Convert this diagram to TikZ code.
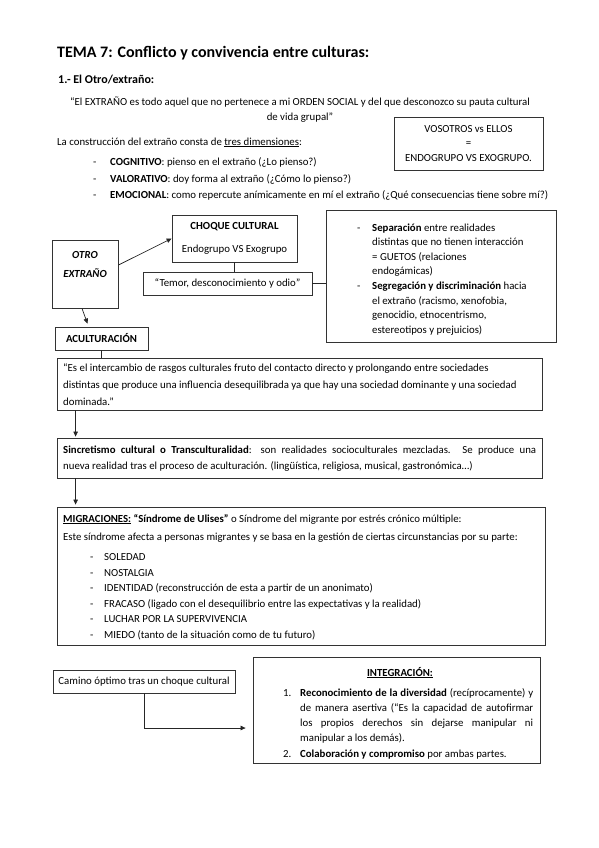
\documentclass[tikz,border=0pt]{standalone}
\usepackage{fontspec}
\setmainfont{Carlito}
\usetikzlibrary{arrows.meta}

\tikzset{
  box/.style={draw=black!80, line width=0.8pt, inner sep=0pt},
  txt/.style={anchor=base west, inner sep=0pt},
  arr/.style={-{Triangle[length=5pt,width=4.5pt]}, black!85, line width=0.7pt},
  con/.style={black!85, line width=0.7pt},
}

\begin{document}
\begin{tikzpicture}[x=1pt, y=-1pt, font=\fontsize{10.8}{15}\selectfont]
\useasboundingbox (0,0) rectangle (599,848);

% Headings
\node[txt, font=\fontsize{16}{18}\selectfont\bfseries] (title) at (57,58) {TEMA 7: Conflicto y convivencia entre culturas:};
\node[txt, font=\fontsize{12}{14}\selectfont\bfseries] (sect) at (58,84) {1.- El Otro/extraño:};
\node[anchor=base, inner sep=0pt] (def1) at (300,106) {“El EXTRAÑO es todo aquel que no pertenece a mi ORDEN SOCIAL y del que desconozco su pauta cultural};
\node[anchor=base, inner sep=0pt] (def2) at (300,121) {de vida grupal”};

% Three dimensions
\node[txt] (dims) at (57,145) {La construcción del extraño consta de \underline{tres dimensiones}:};
\foreach \y in {165,182,198}
    \node[txt] at (93,\y) {-};
\node[txt] (cogn) at (110,165) {\textbf{COGNITIVO}: pienso en el extraño (¿Lo pienso?)};
\node[txt] (valo) at (110,182) {\textbf{VALORATIVO}: doy forma al extraño (¿Cómo lo pienso?)};
\node[txt] (emoc) at (110,198) {\textbf{EMOCIONAL}: como repercute anímicamente en mí el extraño (¿Qué consecuencias tiene sobre mí?)};

\node[box, minimum width=149, minimum height=53, align=center,
      font=\fontsize{10.8}{14.5}\selectfont] (vos) at (468.5,143.5)
    {VOSOTROS vs ELLOS\\=\\ENDOGRUPO VS EXOGRUPO.};

% Otro extraño and choque cultural
\node[box, minimum width=66, minimum height=68] (otro) at (85,274) {};
\node[align=center, font=\fontsize{10.8}{19}\selectfont\bfseries\itshape] (otrotxt) at (85,264) {OTRO\\EXTRAÑO};
\node[box, minimum width=125, minimum height=47, align=center] (choque) at (234.5,238.5)
    {\textbf{CHOQUE CULTURAL}\\[8pt]Endogrupo VS Exogrupo};
\node[box, minimum width=169, minimum height=23] (temor) at (227.5,283.5)
    {“Temor, desconocimiento y odio”};

% base of a multi-line node is its last line
\node[box, minimum width=230, minimum height=132] (sep) at (441,276) {};
\node[txt] at (357,231) {-};
\node[txt] at (357,289.4) {-};
\node[txt, align=left, font=\fontsize{10.8}{14.6}\selectfont] (septxt) at (372,333.2)
    {\textbf{Separación} entre realidades\\distintas que no tienen interacción\\= GUETOS (relaciones\\endogámicas)\\
     \textbf{Segregación y discriminación} hacia\\el extraño (racismo, xenofobia,\\genocidio, etnocentrismo,\\estereotipos y prejuicios)};

\draw[arr] (otro.15) -- (choque.west);
\draw[con] (choque.south) -- (choque.south |- temor.north);
\draw[con] (temor.east) -- (temor.east -| sep.west);

% Aculturacion chain
\node[box, minimum width=93, minimum height=23, font=\fontsize{10.8}{15}\selectfont\bfseries] (acult) at (101.5,338.5) {ACULTURACIÓN};
\draw[arr] (otro.265) -- ([xshift=-14pt,yshift=3pt]acult.north);
\node[box, minimum width=485, minimum height=52] (quote) at (299.5,384) {};
\node[txt, align=left, font=\fontsize{10.8}{17}\selectfont] (quotetxt) at (63,405)
    {“Es el intercambio de rasgos culturales fruto del contacto directo y prolongando entre sociedades\\
     distintas que produce una influencia desequilibrada ya que hay una sociedad dominante y una sociedad\\
     dominada.”};
\draw[con] (acult.south) -- (acult.south |- quote.north);

\node[box, minimum width=485, minimum height=40] (sinc) at (299.5,458) {};
\node[txt, align=left, font=\fontsize{10.8}{16}\selectfont] (sinctxt) at (63,469.5)
    {\makebox[473pt][s]{\textbf{Sincretismo cultural o Transculturalidad}: son realidades socioculturales mezcladas. Se produce una}\\
     nueva realidad tras el proceso de aculturación. (lingüística, religiosa, musical, gastronómica…)};
\draw[arr] ([xshift=19pt]quote.south west) -- ([xshift=19pt,yshift=1pt]sinc.north west);

% Migraciones
\node[box, minimum width=488, minimum height=138] (migr) at (301,576) {};
\node[txt] (migrhead) at (63,522) {\underline{\textbf{MIGRACIONES:}} \textbf{“Síndrome de Ulises”} o Síndrome del migrante por estrés crónico múltiple:};
\node[txt] (migrsub) at (63,540) {Este síndrome afecta a personas migrantes y se basa en la gestión de ciertas circunstancias por su parte:};
\foreach \t [count=\i] in {SOLEDAD, NOSTALGIA,
    {IDENTIDAD (reconstrucción de esta a partir de un anonimato)},
    {FRACASO (ligado con el desequilibrio entre las expectativas y la realidad)},
    LUCHAR POR LA SUPERVIVENCIA,
    {MIEDO (tanto de la situación como de tu futuro)}}
{
    \node[txt] at (90,{545+15.5*\i}) {-};
    \node[txt] (mig\i) at (104,{545+15.5*\i}) {\t};
}
\draw[arr] ([xshift=19pt]sinc.south west) -- ([xshift=19pt,yshift=2pt]migr.north west);

% Integracion
\node[box, minimum width=182, minimum height=23] (camino) at (144,681.5) {Camino óptimo tras un choque cultural};
\node[box, minimum width=287, minimum height=106] (integ) at (396.5,710) {};
\node[anchor=base, inner sep=0pt] (integhead) at (400,676) {\underline{\textbf{INTEGRACIÓN:}}};
\node[txt] at (283,696) {1.};
\node[txt] at (283,757) {2.};
\node[txt, align=left, font=\fontsize{10.8}{15.3}\selectfont] (integtxt) at (300,757.2)
    {\makebox[233pt][s]{\textbf{Reconocimiento de la diversidad} (recíprocamente) y}\\
     \makebox[233pt][s]{de manera asertiva (“Es la capacidad de autofirmar}\\
     \makebox[233pt][s]{los propios derechos sin dejarse manipular ni}\\
     manipular a los demás).\\
     \textbf{Colaboración y compromiso} por ambas partes.};
\draw[arr] (camino.south) |- ([yshift=-18pt,xshift=-7pt]integ.west);

\end{tikzpicture}
\end{document}
